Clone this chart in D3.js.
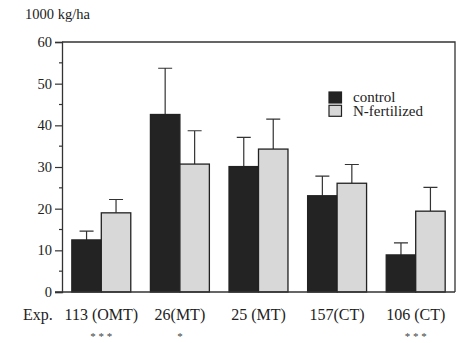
<!DOCTYPE html>
<html>
<head>
<meta charset="utf-8">
<script src="https://cdn.jsdelivr.net/npm/d3@7"></script>
<style>
  body { margin: 0; background: #fff; }
  svg text { font-family: "Liberation Serif", "Times New Roman", serif !important; }
</style>
</head>
<body>
<div id="chart"></div>
<script>
const experiments = ['113 (OMT)', '26(MT)', '25 (MT)', '157(CT)', '106 (CT)'];
const significance = ['* * *', '*', '', '', '* * *'];
const treatments = ['control', 'N-fertilized'];
const controlMean = [12.5, 42.6, 30.1, 23.1, 8.9];
const controlErr = [14.6, 53.7, 37.1, 27.8, 11.8];
const fertMean = [19.0, 30.7, 34.3, 26.1, 19.4];
const fertErr = [22.2, 38.7, 41.5, 30.6, 25.1];
const yTicks = [0, 10, 20, 30, 40, 50, 60];
const yMinorTicks = [5, 15, 25, 35, 45, 55];

const config = {
    width: 459,
    height: 343,
    marginTop: 42,
    marginRight: 4,
    marginBottom: 51,
    marginLeft: 62
};

const colorScale = d3.scaleOrdinal()
    .domain(treatments)
    .range(['#232323', '#d8d8d8']);

const svg = d3.select('#chart')
    .append('svg')
    .attr('width', config.width)
    .attr('height', config.height);

const x0 = d3.scaleBand()
    .domain(experiments)
    .range([config.marginLeft, config.width - config.marginRight])
    .paddingInner(0.25)
    .paddingOuter(0.125);

const x1 = d3.scaleBand()
    .domain(treatments)
    .range([0, x0.bandwidth()]);

const y = d3.scaleLinear()
    .domain([0, 60])
    .range([config.height - config.marginBottom, config.marginTop]);

const rows = experiments.map((e, i) => ({
    exp: e,
    values: [
        { key: 'control', mean: controlMean[i], err: controlErr[i] },
        { key: 'N-fertilized', mean: fertMean[i], err: fertErr[i] }
    ]
}));

// frame (top and right)
svg.append('path')
    .attr('d', `M${config.marginLeft},${y(60)}H${config.width - config.marginRight}V${y(0)}`)
    .attr('fill', 'none')
    .attr('stroke', '#333')
    .attr('stroke-width', 1.3);

const groups = svg.append('g')
    .selectAll('g')
    .data(rows)
    .join('g')
    .attr('transform', d => `translate(${x0(d.exp)},0)`);

// error bars, only the upper half
groups.selectAll('path.err')
    .data(d => d.values)
    .join('path')
    .attr('class', 'err')
    .attr('fill', 'none')
    .attr('stroke', '#333')
    .attr('stroke-width', 1.2)
    .attr('d', d => {
        const cx = x1(d.key) + x1.bandwidth() / 2;
        return `M${cx},${y(d.mean)}V${y(d.err)}M${cx - 7},${y(d.err)}H${cx + 7}`;
    });

groups.selectAll('rect')
    .data(d => d.values)
    .join('rect')
    .attr('x', d => x1(d.key))
    .attr('y', d => y(d.mean))
    .attr('width', x1.bandwidth())
    .attr('height', d => y(0) - y(d.mean))
    .attr('fill', d => colorScale(d.key))
    .attr('stroke', '#222')
    .attr('stroke-width', 1.3);

// y axis
svg.append('g')
    .attr('transform', `translate(${config.marginLeft},0)`)
    .call(d3.axisLeft(y).tickValues(yTicks).tickSize(7).tickPadding(3))
    .call(g => g.select('.domain').attr('stroke', '#333').attr('stroke-width', 1.3))
    .call(g => g.selectAll('.tick line').attr('stroke', '#333').attr('stroke-width', 1.2))
    .call(g => g.selectAll('.tick text')
        .attr('font-size', 14.5)
        .attr('fill', '#222'));

svg.append('g')
    .selectAll('line')
    .data(yMinorTicks)
    .join('line')
    .attr('x1', config.marginLeft - 3)
    .attr('x2', config.marginLeft)
    .attr('y1', d => y(d))
    .attr('y2', d => y(d))
    .attr('stroke', '#333')
    .attr('stroke-width', 1.2);

// baseline
svg.append('line')
    .attr('x1', config.marginLeft - 7)
    .attr('x2', config.width - config.marginRight)
    .attr('y1', y(0))
    .attr('y2', y(0))
    .attr('stroke', '#333')
    .attr('stroke-width', 1.3);

// y label
svg.append('text')
    .attr('x', 25)
    .attr('y', 18.5)
    .attr('font-size', 14.5)
    .attr('fill', '#222')
    .text('1000 kg/ha');

// category labels
svg.append('text')
    .attr('x', 23)
    .attr('y', y(0) + 28)
    .attr('font-size', 16)
    .attr('fill', '#222')
    .text('Exp.');

svg.append('g')
    .selectAll('text')
    .data(experiments)
    .join('text')
    .attr('x', d => x0(d) + x0.bandwidth() / 2)
    .attr('y', y(0) + 28)
    .attr('text-anchor', 'middle')
    .attr('font-size', 16)
    .attr('fill', '#222')
    .text(d => d);

// significance stars
svg.append('g')
    .selectAll('text')
    .data(experiments)
    .join('text')
    .attr('x', d => x0(d) + x0.bandwidth() / 2)
    .attr('y', y(0) + 48)
    .attr('text-anchor', 'middle')
    .attr('font-size', 11)
    .attr('fill', '#444')
    .text((d, i) => significance[i]);

// legend
const legend = svg.append('g')
    .attr('transform', 'translate(329,92)');

const item = legend.selectAll('g')
    .data(treatments)
    .join('g')
    .attr('transform', (d, i) => `translate(0,${i * 13.3})`);

item.append('rect')
    .attr('width', 12.5)
    .attr('height', 11)
    .attr('fill', d => colorScale(d))
    .attr('stroke', '#222')
    .attr('stroke-width', 1.2);

item.append('text')
    .attr('x', 24)
    .attr('y', 10.3)
    .attr('font-size', 15)
    .attr('fill', '#222')
    .text(d => d);
</script>
</body>
</html>
